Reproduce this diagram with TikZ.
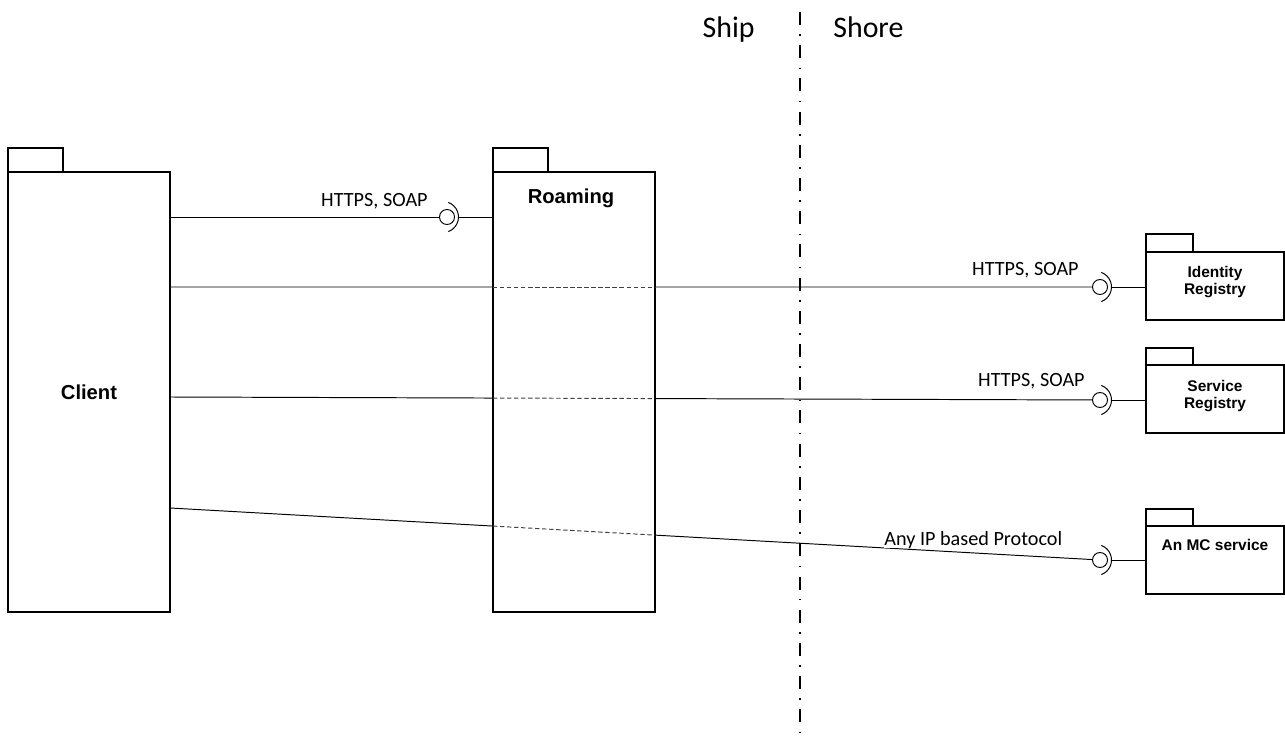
\documentclass[tikz,border=0pt]{standalone}
\usepackage{fontspec}
\setmainfont{Carlito}
\newfontfamily\boxfont{Liberation Sans}
\usetikzlibrary{calc}

\tikzset{
  pkgbody/.style={draw, line width=0.7pt, anchor=north west, inner sep=0pt, outer sep=0pt},
  pkgtab/.style={draw, line width=0.7pt, anchor=south west, inner sep=0pt, outer sep=0pt},
  bigtitle/.style={font=\boxfont\bfseries\fontsize{11.5}{13}\selectfont, inner sep=0pt},
  smalltitle/.style={font=\boxfont\bfseries\fontsize{8.8}{9.8}\selectfont, align=center, inner sep=0pt, anchor=north},
  conn/.style={line width=0.55pt},
  hidden/.style={line width=0.55pt, draw=black!75, dash pattern=on 2.5pt off 1.5pt},
  ball/.style={draw, circle, line width=0.55pt, minimum size=0.3cm, inner sep=0pt, outer sep=0pt},
  proto/.style={font=\fontsize{11.5}{13}\selectfont, inner sep=0pt},
  side/.style={font=\fontsize{17}{20}\selectfont, inner sep=0pt},
  divider/.style={line width=0.8pt, dash pattern=on 7.4pt off 5.3pt on 0.9pt off 5.3pt},
}

\begin{document}
\begin{tikzpicture}[x=0.02cm, y=-0.02cm]
  \useasboundingbox (0,0) rectangle (1285,740);

  % Ship / Shore boundary
  \coordinate (divtop) at (800,12);
  \coordinate (divbot) at (800,740);
  \draw[divider] (divtop) -- (divbot);
  \node[side, anchor=base east] (ship) at ($(divtop)+(-45,26)$) {Ship};
  \node[side, anchor=base west] (shore) at ($(divtop)+(33,26)$) {Shore};

  % Packages on the ship side
  \node[pkgbody, minimum width=3.24cm, minimum height=8.8cm] (client) at (8,172) {};
  \node[pkgtab, minimum width=1.1cm, minimum height=0.48cm] (clienttab) at (client.north west) {};
  \node[bigtitle] (clientlbl) at (client.center) {Client};

  \node[pkgbody, minimum width=3.24cm, minimum height=8.8cm] (roaming) at (493,172) {};
  \node[pkgtab, minimum width=1.1cm, minimum height=0.48cm] (roamingtab) at (roaming.north west) {};
  \node[bigtitle, anchor=base] (roaminglbl) at ($(roaming.north)+(-3,31)$) {Roaming};

  % Packages on the shore side
  \node[pkgbody, minimum width=2.76cm, minimum height=1.36cm] (idreg) at (1146,252) {};
  \node[pkgtab, minimum width=0.94cm, minimum height=0.36cm] (idregtab) at (idreg.north west) {};
  \node[smalltitle] (idreglbl) at ($(idreg.north)+(0,14)$) {Identity\\Registry};

  \node[pkgbody, minimum width=2.76cm, minimum height=1.36cm] (svreg) at (1146,365) {};
  \node[pkgtab, minimum width=0.94cm, minimum height=0.34cm] (svregtab) at (svreg.north west) {};
  \node[smalltitle] (svreglbl) at ($(svreg.north)+(0,15)$) {Service\\Registry};

  \node[pkgbody, minimum width=2.76cm, minimum height=1.36cm] (mcsvc) at (1146,526) {};
  \node[pkgtab, minimum width=0.94cm, minimum height=0.34cm] (mcsvctab) at (mcsvc.north west) {};
  \node[smalltitle] (mcsvclbl) at ($(mcsvc.north)+(0,13)$) {An MC service};

  % Provided interfaces (balls)
  \node[ball] (b1) at (447,217) {};
  \node[ball] (b2) at (1100,287) {};
  \node[ball] (b3) at (1100,400) {};
  \node[ball] (b4) at (1100,560) {};

  % Sockets and their links to the providing packages
  \foreach \b/\p in {b1/roaming, b2/idreg, b3/svreg, b4/mcsvc}{
    \draw[conn] ($(\b.center)+(-4,0)$) ++(-70:0.31cm) arc[start angle=-70, end angle=70, radius=0.31cm];
    \draw[conn] ($(\b.center)+(11.5,0)$) -- (\b -| \p.west);
  }

  % Client connectors
  \coordinate (c1) at ($(client.north east)+(0,45)$);
  \coordinate (c2) at ($(client.north east)+(0,115)$);
  \coordinate (c3) at ($(client.north east)+(0,225)$);
  \coordinate (c4) at ($(client.north east)+(0,336)$);

  \draw[conn] (c1) -- (b1);

  % connectors crossing the Roaming package are dashed inside it
  \foreach \i in {2,3,4}{
    \coordinate (e\i) at ($(c\i)!0.3473!(b\i)$);
    \coordinate (f\i) at ($(c\i)!0.5215!(b\i)$);
    \draw[conn] (c\i) -- (e\i);
    \draw[hidden] (e\i) -- (f\i);
    \draw[conn] (f\i) -- (b\i);
  }

  % Protocol labels
  \node[proto, anchor=base east] (p1) at ($(b1)+(-19,-11)$) {HTTPS, SOAP};
  \node[proto, anchor=base east] (p2) at ($(b2)+(-21,-12)$) {HTTPS, SOAP};
  \node[proto, anchor=base east] (p3) at ($(b3)+(-15,-14)$) {HTTPS, SOAP};
  \node[proto, anchor=base west, fill=white] (p4) at (884,545) {Any IP based Protocol};
\end{tikzpicture}
\end{document}
